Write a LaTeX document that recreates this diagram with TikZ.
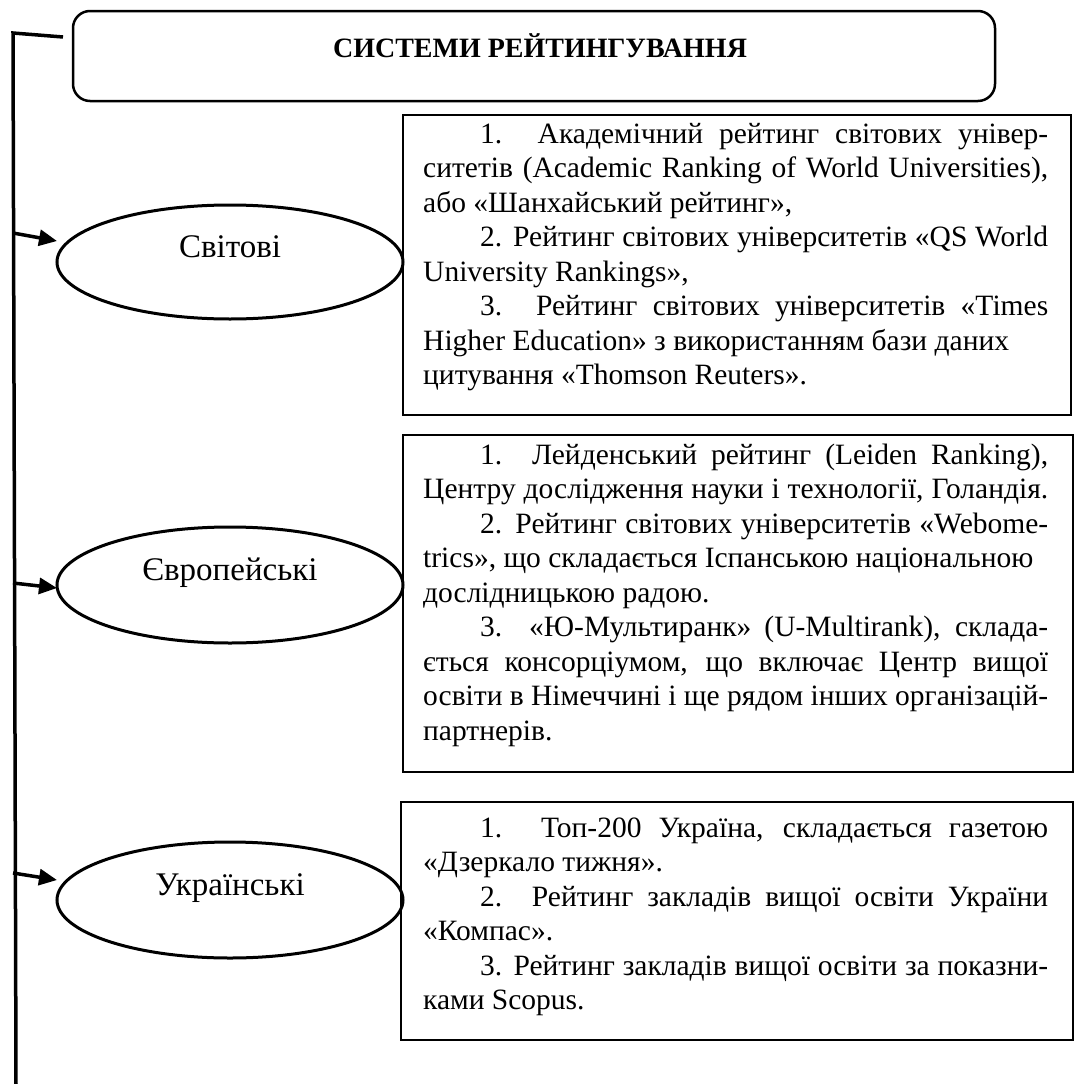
\documentclass[tikz,border=0pt]{standalone}
\usepackage{fontspec}
\setmainfont{Liberation Serif}
\usetikzlibrary{shapes.geometric,arrows.meta}
\newlength{\tw}\setlength{\tw}{625pt}
\newcommand{\myjl}[1]{\hbox to \tw{#1}}
\newcommand{\myrl}[1]{\hbox to \tw{#1\hfil}}
\newcommand{\myind}{\hspace*{57pt}}
\newcommand{\bodyfont}{\fontsize{29.5pt}{34.5pt}\selectfont}
\newcommand{\lblfont}{\fontsize{33pt}{38pt}\selectfont}
\newcommand{\ttlfont}{\fontsize{28pt}{32pt}\selectfont\bfseries}
\hbadness=10000 \hfuzz=80pt
\begin{document}
\begin{tikzpicture}[x=1pt,y=-1pt,
  boxst/.style={draw,line width=2pt,inner sep=0pt,outer sep=0pt,anchor=north west},
  ellst/.style={ellipse,draw,line width=3pt,inner sep=0pt,outer sep=0pt},
  titlebox/.style={draw,line width=2.5pt,rounded corners=17pt,inner sep=0pt,outer sep=0pt,anchor=north west},
  lbl/.style={font=\lblfont,inner sep=0pt,anchor=base},
  txt/.style={inner sep=0pt,anchor=base west},
  spine/.style={line width=3.5pt},
  arr/.style={line width=3.5pt,-{Triangle[length=18pt,width=16pt]}}]
\useasboundingbox (0,0) rectangle (1074,1084);
% title
\node[titlebox,minimum width=922pt,minimum height=90pt] (tb) at (73,11) {};
\node[inner sep=0pt,anchor=base,font=\ttlfont] (tt) at (540,57) {СИСТЕМИ РЕЙТИНГУВАННЯ};
% spine
\coordinate (stub) at (63,37);
\coordinate (vt) at (13,33);
\coordinate (vb) at (16,1084);
\draw[spine] (stub) -- (vt) -- (vb);
% ellipses
\node[ellst,minimum width=346pt,minimum height=114pt] (e1) at (230,262) {};
\node[lbl] (l1) at (230,257) {Світові};
\node[ellst,minimum width=346pt,minimum height=116pt] (e2) at (230,585) {};
\node[lbl] (l2) at (230,580) {Європейські};
\node[ellst,minimum width=346pt,minimum height=116pt] (e3) at (230,900) {};
\node[lbl] (l3) at (230,895) {Українські};
% arrows
\coordinate (a1s) at (13,233); \coordinate (a1e) at (57,241);
\coordinate (a2s) at (13,583); \coordinate (a2e) at (57,588);
\coordinate (a3s) at (13,873); \coordinate (a3e) at (57,880);
\draw[arr] (a1s) -- (a1e);
\draw[arr] (a2s) -- (a2e);
\draw[arr] (a3s) -- (a3e);
% boxes
\node[boxst,minimum width=668pt,minimum height=300pt] (b1) at (403,115) {};
\node[boxst,minimum width=670pt,minimum height=337pt] (b2) at (403,435) {};
\node[boxst,minimum width=672pt,minimum height=238pt] (b3) at (401,802) {};
% texts
\node[txt] (t1) at (423,143) {\parbox[t]{\tw}{\bodyfont
\myjl{\myind 1. Академічний рейтинг світових універ-}
\myjl{ситетів (Academic Ranking of World Universities),}
\myrl{або «Шанхайський рейтинг»,}
\myjl{\myind 2. Рейтинг світових університетів «QS World}
\myrl{University Rankings»,}
\myjl{\myind 3. Рейтинг світових університетів «Times}
\myrl{Higher Education» з використанням бази даних}
\myrl{цитування «Thomson Reuters».}}};
\node[txt] (t2) at (423,464) {\parbox[t]{\tw}{\bodyfont
\myjl{\myind 1. Лейденський рейтинг (Leiden Ranking),}
\myjl{Центру дослідження науки і технології, Голандія.}
\myjl{\myind 2. Рейтинг світових університетів «Webome-}
\myrl{trics», що складається Іспанською національною}
\myrl{дослідницькою радою.}
\myjl{\myind 3. «Ю-Мультиранк» (U-Multirank), склада-}
\myjl{ється консорціумом, що включає Центр вищої}
\myjl{освіти в Німеччині і ще рядом інших організацій-}
\myrl{партнерів.}}};
\node[txt] (t3) at (423,837) {\parbox[t]{\tw}{\bodyfont
\myjl{\myind 1. Топ-200 Україна, складається газетою}
\myrl{«Дзеркало тижня».}
\myjl{\myind 2. Рейтинг закладів вищої освіти України}
\myrl{«Компас».}
\myjl{\myind 3. Рейтинг закладів вищої освіти за показни-}
\myrl{ками Scopus.}}};
\end{tikzpicture}
\end{document}
